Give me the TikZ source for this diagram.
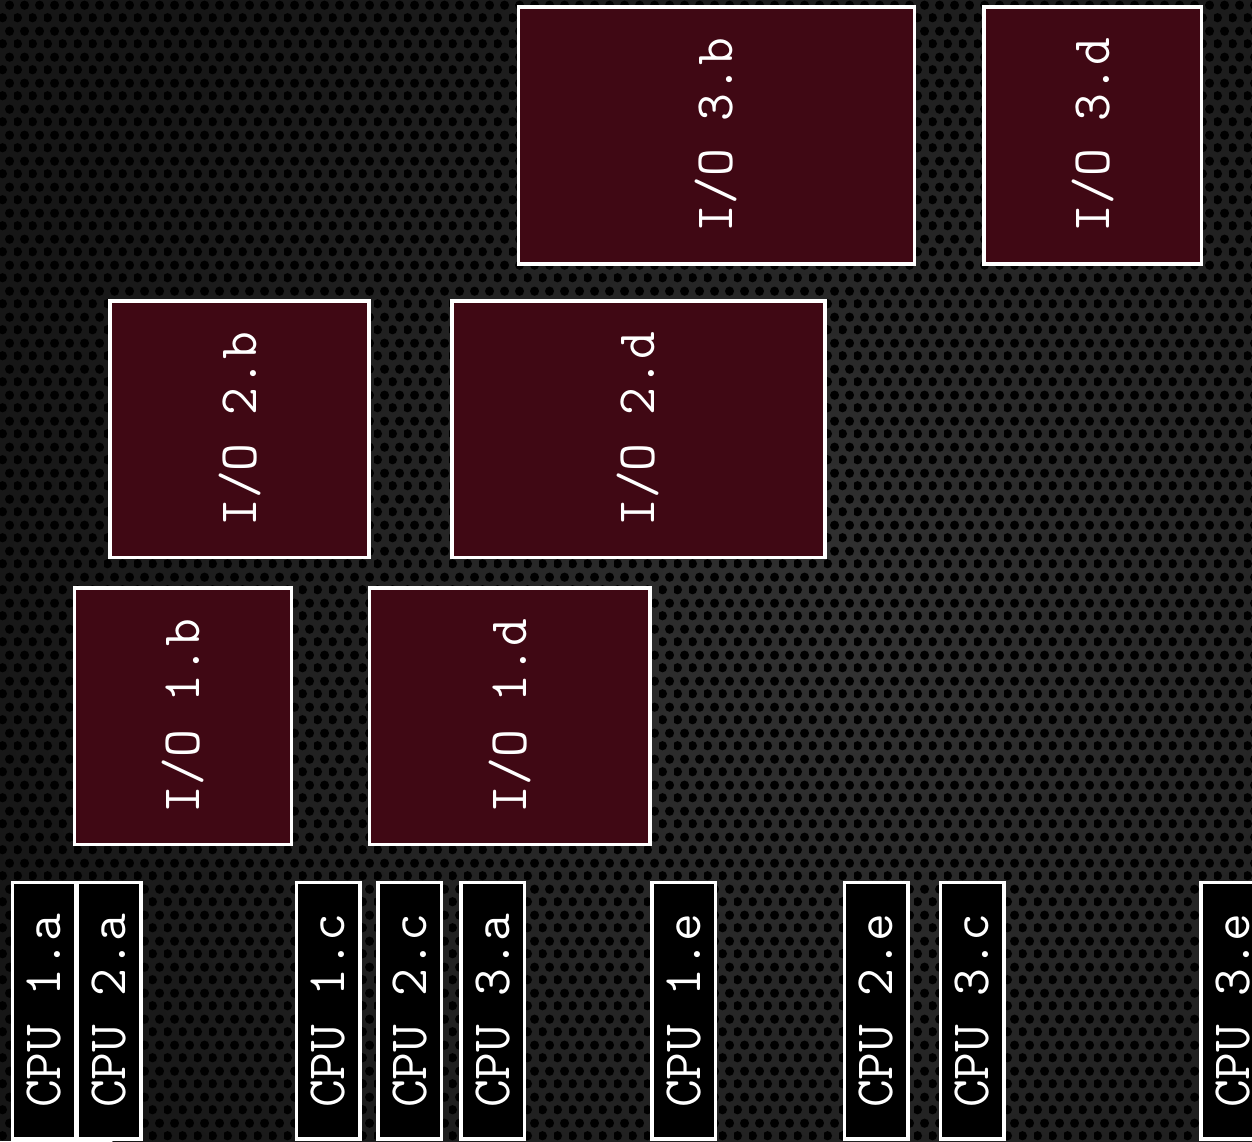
\documentclass[tikz,border=0pt]{standalone}
\usepackage{fontspec}
\usetikzlibrary{patterns}
\pgfdeclarepatternformonly{hexdots}{\pgfpointorigin}{\pgfqpoint{15pt}{26pt}}{\pgfqpoint{15pt}{26pt}}{%
  \pgfpathcircle{\pgfqpoint{3.75pt}{6.5pt}}{4.8pt}%
  \pgfpathcircle{\pgfqpoint{11.25pt}{19.5pt}}{4.8pt}%
  \pgfusepath{fill}}
\definecolor{bgdark}{HTML}{161616}
\definecolor{bglight}{HTML}{323232}
\definecolor{maroon}{HTML}{400814}
\tikzset{
  boxbase/.style={draw=white, line width=3.5pt, rotate=90, inner sep=0pt, outer sep=0pt,
    text=white, font=\fontsize{54}{54}\selectfont\ttfamily},
  iobox/.style={boxbase, fill=maroon, minimum height=#1},
  cpubox/.style={boxbase, fill=black, minimum width=256.3pt, minimum height=63.5pt},
}
\begin{document}
\begin{tikzpicture}[x=1pt,y=-1pt]
\useasboundingbox (0,0) rectangle (1252,1141);
\begin{scope}
  \clip (0,0) rectangle (1252,1141);
  \fill[bgdark] (0,0) rectangle (1252,1141);
  \shade[inner color=bglight, outer color=bgdark] (860,640) circle (900);
  \fill[pattern=hexdots, pattern color=black] (0,0) rectangle (1252,1141);
\end{scope}
% I/O boxes
\node[iobox=395.8pt, minimum width=257pt] (io3b) at (716.35,135.25) {I/O 3.b};
\node[iobox=217.5pt, minimum width=257pt] (io3d) at (1092.8,135.25) {I/O 3.d};
\node[iobox=258.9pt, minimum width=256.5pt] (io2b) at (239.5,429.3) {I/O 2.b};
\node[iobox=373.2pt, minimum width=256.5pt] (io2d) at (638.35,429.3) {I/O 2.d};
\node[iobox=216.8pt, minimum width=256.5pt] (io1b) at (182.85,716) {I/O 1.b};
\node[iobox=280.5pt, minimum width=256.5pt] (io1d) at (509.7,716) {I/O 1.d};
% CPU boxes
\node[cpubox] (cpu1a) at (44.35,1010.6) {CPU 1.a};
\node[cpubox] (cpu2a) at (109.1,1010.6) {CPU 2.a};
\node[cpubox] (cpu1c) at (328,1010.6) {CPU 1.c};
\node[cpubox] (cpu2c) at (409.5,1010.6) {CPU 2.c};
\node[cpubox] (cpu3a) at (492.5,1010.6) {CPU 3.a};
\node[cpubox] (cpu1e) at (683.65,1010.6) {CPU 1.e};
\node[cpubox] (cpu2e) at (876.35,1010.6) {CPU 2.e};
\node[cpubox] (cpu3c) at (972.15,1010.6) {CPU 3.c};
\node[cpubox] (cpu3e) at (1232.5,1010.6) {CPU 3.e};
\end{tikzpicture}
\end{document}
